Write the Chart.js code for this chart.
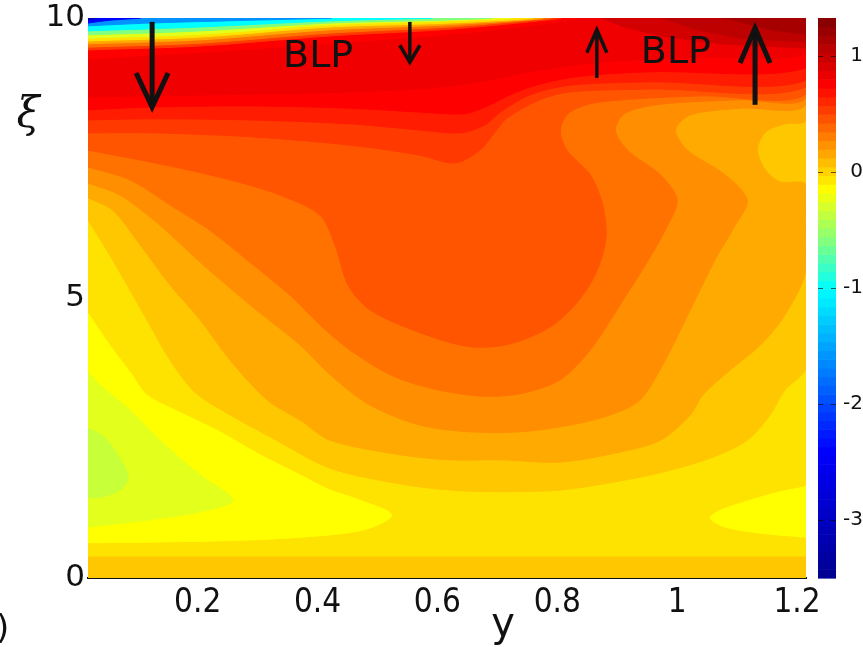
<!DOCTYPE html>
<html>
<head>
<meta charset="utf-8">
<script src="https://cdn.jsdelivr.net/npm/chart.js@4.4.1/dist/chart.umd.min.js"></script>
<style>
  html, body { margin: 0; padding: 0; background: #fff; }
  canvas { display: block; }
</style>
</head>
<body>
<canvas id="chart" width="863" height="647"></canvas>
<script>
// axis ranges and ticks
const yRange = [0.017, 1.215];
const xiRange = [0, 10];
const yTicks = [0.2, 0.4, 0.6, 0.8, 1, 1.2];
const xiTicks = [0, 5, 10];
const cbRange = [-3.5, 1.33];
const cbTicks = [-3, -2, -1, 0, 1];

// contour regions, points are [y, xi]
const baseField = [[0.017, 0], [1.215, 0], [1.215, 10], [0.017, 10]];
const bottomBand = [[0.017, 0], [1.215, 0], [1.215, 0.375], [0.017, 0.375]];
const leftYellow = [[0.017,4.73],[0.053,4.16],[0.087,3.68],[0.115,3.27],[0.170,2.96],[0.237,2.61],[0.304,2.20],[0.371,1.84],[0.421,1.57],[0.471,1.39],[0.524,1.13],[0.487,0.89],[0.421,0.77],[0.287,0.68],[0.120,0.64],[0.017,0.63]];
const leftGreenish = [[0.017,3.68],[0.037,3.45],[0.087,3.0],[0.137,2.46],[0.204,1.84],[0.259,1.39],[0.204,1.18],[0.120,1.04],[0.017,0.91]];
const limeLobe = [[0.017,2.68],[0.045,2.5],[0.070,2.14],[0.084,1.79],[0.070,1.57],[0.045,1.46],[0.017,1.43]];
const rightYellow = [[1.215,1.63],[1.172,1.54],[1.122,1.39],[1.072,1.21],[1.055,1.07],[1.080,0.91],[1.139,0.80],[1.215,0.73]];

// superlevel contours, left edge -> right edge
const contourA = [[0.017,6.39],[0.053,5.77],[0.087,5.14],[0.120,4.52],[0.154,3.89],[0.195,3.32],[0.254,2.91],[0.321,2.52],[0.421,1.96],[0.538,1.68],[0.621,1.57],[0.705,1.54],[0.805,1.57],[0.888,1.70],[0.972,1.88],[1.055,2.14],[1.117,2.46],[1.155,2.91],[1.180,3.36],[1.215,3.77]];
const contourB = [[0.017,6.79],[0.058,6.57],[0.104,5.95],[0.154,5.23],[0.204,4.61],[0.254,3.89],[0.316,3.18],[0.371,2.82],[0.421,2.46],[0.538,2.20],[0.621,2.11],[0.705,2.11],[0.805,2.07],[0.905,2.25],[0.972,2.46],[1.022,2.91],[1.043,3.27],[1.088,3.71],[1.139,4.16],[1.180,4.70],[1.215,5.5],[1.215,7.02],[1.172,7.07],[1.147,7.29],[1.134,7.64],[1.147,7.96],[1.180,8.11],[1.215,8.18]];
const contourC = [[0.017,7.05],[0.070,6.84],[0.137,6.30],[0.204,5.64],[0.287,4.88],[0.371,4.16],[0.421,3.63],[0.487,3.09],[0.571,2.73],[0.654,2.61],[0.738,2.61],[0.821,2.73],[0.888,2.91],[0.938,3.18],[0.980,3.89],[1.022,4.79],[1.063,5.68],[1.097,6.30],[1.117,6.75],[1.080,7.20],[1.017,7.64],[0.997,8.0],[1.022,8.27],[1.105,8.39],[1.215,8.45]];
const contourD = [[0.017,7.34],[0.087,7.11],[0.154,6.66],[0.220,6.21],[0.287,5.64],[0.354,5.05],[0.404,4.52],[0.454,4.07],[0.521,3.63],[0.588,3.39],[0.671,3.25],[0.738,3.29],[0.805,3.54],[0.855,4.07],[0.905,4.88],[0.947,5.59],[0.980,6.21],[1.0,6.75],[0.972,7.20],[0.917,7.64],[0.897,8.0],[0.913,8.30],[0.972,8.46],[1.105,8.54],[1.215,8.57]];
const contourE = [[0.017,7.64],[0.087,7.50],[0.170,7.32],[0.254,7.11],[0.337,6.84],[0.404,6.48],[0.429,5.95],[0.451,5.23],[0.487,4.79],[0.571,4.38],[0.654,4.13],[0.721,4.18],[0.788,4.48],[0.830,4.88],[0.863,5.41],[0.881,6.04],[0.876,6.66],[0.855,7.20],[0.816,7.64],[0.805,8.0],[0.821,8.32],[0.871,8.5],[1.038,8.61],[1.215,8.64]];
const contourF = [[0.017,7.95],[0.120,7.95],[0.287,7.88],[0.454,7.73],[0.571,7.55],[0.629,7.41],[0.671,7.64],[0.696,7.96],[0.716,8.21],[0.771,8.54],[0.821,8.68],[0.955,8.73],[1.215,8.77]];
const contourF2 = [[0.017,8.18],[0.120,8.20],[0.287,8.18],[0.454,8.11],[0.571,8.0],[0.638,7.95],[0.679,8.09],[0.705,8.32],[0.755,8.63],[0.821,8.80],[0.955,8.86],[1.215,8.89]];
const contourR = [[0.017,8.36],[0.120,8.41],[0.287,8.43],[0.454,8.39],[0.571,8.32],[0.646,8.29],[0.688,8.45],[0.721,8.63],[0.771,8.82],[0.838,8.96],[0.955,9.04],[1.215,9.11]];
const bandR2 = [[0.017,8.59],[0.120,8.61],[0.287,8.64],[0.454,8.68],[0.588,8.75],[0.671,8.86],[0.755,9.04],[0.871,9.21],[1.038,9.30],[1.215,9.36],[1.215,10],[0.805,10],[0.738,9.86],[0.621,9.73],[0.454,9.57],[0.287,9.43],[0.120,9.32],[0.017,9.25]];
const bandR3 = [[0.871,10],[1.215,10],[1.215,9.46],[1.072,9.54],[0.972,9.68],[0.905,9.86]];
const bandR4 = [[0.972,10],[1.215,10],[1.215,9.57],[1.105,9.64],[1.022,9.82]];
const bandR5 = [[1.072,10],[1.215,10],[1.215,9.71],[1.155,9.79],[1.105,9.93]];

// boundary layer at the top wall (low values near the top-left corner)
const wall075 = [[0.017,9.32],[0.204,9.39],[0.421,9.55],[0.621,9.71],[0.771,9.89],[0.830,10]];
const wall055 = [[0.017,9.43],[0.204,9.5],[0.421,9.68],[0.621,9.80],[0.771,9.95],[0.805,10]];
const wall035 = [[0.017,9.48],[0.204,9.55],[0.421,9.73],[0.621,9.84],[0.755,9.96],[0.788,10]];
const wall015 = [[0.017,9.54],[0.204,9.61],[0.421,9.79],[0.621,9.88],[0.771,10]];
const wallM005 = [[0.017,9.59],[0.204,9.66],[0.421,9.84],[0.621,9.91],[0.755,10]];
const wallM025 = [[0.017,9.64],[0.204,9.71],[0.421,9.88],[0.621,9.95],[0.721,10]];
const wallM06 = [[0.017,9.70],[0.204,9.77],[0.421,9.91],[0.604,9.96],[0.688,10]];
const wallM10 = [[0.017,9.77],[0.204,9.84],[0.421,9.95],[0.588,10]];
const wallM16 = [[0.017,9.86],[0.120,9.91],[0.287,9.96],[0.421,10]];
const wallM24 = [[0.017,9.91],[0.053,9.96],[0.104,10]];
const wallM31 = [[0.017,9.96],[0.032,10]];

// annotations
const blpText = ['BLP', 'BLP'];
const blpY = [0.401, 0.998];
const blpXi = [9.30, 9.38];
const arrowY = [0.124, 0.554, 0.866, 1.130];
const arrowFrom = [9.93, 9.93, 8.93, 8.45];
const arrowTo = [8.41, 9.21, 9.79, 9.82];
const arrowStyle = [[34, 16, 5], [17, 10, 3.5], [23, 10, 3.5], [35, 15, 5]];

// painting order: [value, points, closing]
const layers = [
  [-0.05, baseField, 'none'],
  [0.05, bottomBand, 'none'],
  [-0.15, leftYellow, 'none'],
  [-0.25, leftGreenish, 'none'],
  [-0.35, limeLobe, 'none'],
  [-0.15, rightYellow, 'none'],
  [0.05, contourA, 'top'],
  [0.15, contourB, 'top'],
  [0.25, contourC, 'top'],
  [0.35, contourD, 'top'],
  [0.45, contourE, 'top'],
  [0.55, contourF, 'top'],
  [0.65, contourF2, 'top'],
  [0.75, contourR, 'top'],
  [0.82, bandR2, 'none'],
  [0.95, bandR3, 'none'],
  [1.05, bandR4, 'none'],
  [1.15, bandR5, 'none'],
  [0.75, wall075, 'wall'],
  [0.55, wall055, 'wall'],
  [0.35, wall035, 'wall'],
  [0.15, wall015, 'wall'],
  [-0.05, wallM005, 'wall'],
  [-0.25, wallM025, 'wall'],
  [-0.6, wallM06, 'wall'],
  [-1.0, wallM10, 'wall'],
  [-1.6, wallM16, 'wall'],
  [-2.4, wallM24, 'wall'],
  [-3.1, wallM31, 'wall']
];

// colour map (jet-like, as in the colour bar)
const cmapStops = [[-3.5,'#00008f'],[-2.4,'#0000ff'],[-1.0,'#00ffff'],[-0.6,'#80ff80'],[-0.15,'#ffff00'],[0.3,'#ff8000'],[0.75,'#ff0000'],[1.33,'#800000']];

function hexRgb(h) {
  return [1, 3, 5].map(i => parseInt(h.substr(i, 2), 16));
}

function cmap(v) {
  const s = cmapStops;
  if (v <= s[0][0]) return s[0][1];
  for (let i = 1; i < s.length; i++) {
    if (v <= s[i][0]) {
      const t = (v - s[i - 1][0]) / (s[i][0] - s[i - 1][0]);
      const a = hexRgb(s[i - 1][1]), b = hexRgb(s[i][1]);
      return 'rgb(' + a.map((c, k) => Math.round(c + (b[k] - c) * t)).join(',') + ')';
    }
  }
  return s[s.length - 1][1];
}

// corners are repeated so that the smoothed outline stays straight along the frame
const datasets = layers.map(([value, pts, closing], i) => {
  let ring = pts.slice();
  const tl = [yRange[0], xiRange[1]], tr = [yRange[1], xiRange[1]];
  if (closing === 'top') ring.push(tr, tr, tl, tl);
  if (closing === 'wall') ring.push(tl, tl);
  const c = cmap(value);
  const smooth = closing !== 'none' || pts.length > 6;
  return {
    data: ring.map(p => ({x: p[0], y: p[1]})),
    backgroundColor: c,
    borderColor: c,
    borderWidth: 1,
    fill: 'shape',
    tension: smooth && pts !== baseField && pts !== bottomBand ? 0.3 : 0,
    pointRadius: 0,
    pointHitRadius: 0,
    order: -i
  };
});

function noPad(s) {
  s.paddingTop = 0; s.paddingBottom = 0; s.paddingLeft = 0; s.paddingRight = 0;
}

const colorbarPlugin = {
  id: 'colorbar',
  afterDraw(chart) {
    const {ctx, chartArea} = chart;
    const s = chart.scales.cb;
    const x0 = chartArea.right + 12, w = 18;
    const n = 64;
    const step = (cbRange[1] - cbRange[0]) / n;
    ctx.save();
    for (let i = 0; i < n; i++) {
      const v0 = cbRange[0] + i * step;
      const ya = s.getPixelForValue(v0 + step), yb = s.getPixelForValue(v0);
      ctx.fillStyle = cmap(v0 + step / 2);
      ctx.fillRect(x0, ya, w, yb - ya + 0.6);
    }
    ctx.strokeStyle = 'rgba(0,0,0,0.6)';
    ctx.lineWidth = 1;
    cbTicks.forEach(v => {
      const y = Math.round(s.getPixelForValue(v)) + 0.5;
      ctx.beginPath();
      ctx.moveTo(x0, y); ctx.lineTo(x0 + 5, y);
      ctx.moveTo(x0 + w - 5, y); ctx.lineTo(x0 + w, y);
      ctx.stroke();
    });
    // axis titles
    ctx.fillStyle = '#111';
    ctx.textAlign = 'center';
    ctx.textBaseline = 'middle';
    ctx.font = 'italic 42px "DejaVu Serif"';
    ctx.fillText('\u03BE', 28, 116);
    ctx.font = '40px "DejaVu Sans"';
    ctx.fillText('y', 503, 626);
    ctx.textAlign = 'left';
    ctx.font = '34px "DejaVu Sans"';
    ctx.fillText(')', -4, 630);
    ctx.restore();
  }
};

const annotationPlugin = {
  id: 'annotations',
  afterDatasetsDraw(chart) {
    const {ctx} = chart;
    const sx = chart.scales.x, sy = chart.scales.y;
    ctx.save();
    ctx.fillStyle = '#111';
    ctx.strokeStyle = '#111';
    ctx.font = '38px "DejaVu Sans"';
    ctx.textAlign = 'center';
    ctx.textBaseline = 'middle';
    blpText.forEach((t, i) => {
      ctx.fillText(t, sx.getPixelForValue(blpY[i]), sy.getPixelForValue(blpXi[i]));
    });
    arrowY.forEach((yv, i) => {
      const x = sx.getPixelForValue(yv);
      const y0 = sy.getPixelForValue(arrowFrom[i]);
      const y1 = sy.getPixelForValue(arrowTo[i]);
      const [head, half, lw] = arrowStyle[i];
      const dir = Math.sign(y1 - y0);
      ctx.lineWidth = lw;
      ctx.lineCap = 'butt';
      ctx.lineJoin = 'miter';
      ctx.beginPath();
      ctx.moveTo(x, y0);
      ctx.lineTo(x, y1 - dir * lw);
      ctx.stroke();
      ctx.beginPath();
      ctx.moveTo(x - half, y1 - dir * head);
      ctx.lineTo(x, y1);
      ctx.lineTo(x + half, y1 - dir * head);
      ctx.stroke();
    });
    ctx.restore();
  }
};

new Chart(document.getElementById('chart'), {
  type: 'line',
  data: {datasets: datasets},
  options: {
    responsive: false,
    animation: false,
    events: [],
    layout: {padding: {top: 18, left: 0, right: 0, bottom: 0}},
    plugins: {legend: {display: false}, tooltip: {enabled: false}},
    scales: {
      x: {
        type: 'linear',
        position: 'bottom',
        min: yRange[0],
        max: yRange[1],
        afterBuildTicks: s => { s.ticks = yTicks.map(v => ({value: v})); },
        afterFit: s => { s.height = 69; noPad(s); },
        grid: {display: false, drawTicks: false},
        border: {display: true, color: '#111', width: 2},
        ticks: {
          color: '#111',
          padding: 6,
          maxRotation: 0,
          font: {family: '"Liberation Sans Narrow", "DejaVu Sans Condensed", sans-serif', size: 33},
          callback: v => String(Number(Number(v).toFixed(1)))
        }
      },
      y: {
        type: 'linear',
        position: 'left',
        min: xiRange[0],
        max: xiRange[1],
        afterBuildTicks: s => { s.ticks = xiTicks.map(v => ({value: v})); },
        afterFit: s => { s.width = 88; noPad(s); },
        grid: {display: false, drawTicks: false},
        border: {display: false},
        ticks: {color: '#111', padding: 3, font: {family: '"DejaVu Sans"', size: 31}}
      },
      cb: {
        type: 'linear',
        position: 'right',
        min: cbRange[0],
        max: cbRange[1],
        afterBuildTicks: s => { s.ticks = cbTicks.map(v => ({value: v})); },
        afterFit: s => { s.width = 57; noPad(s); },
        grid: {display: false, drawTicks: false},
        border: {display: false},
        ticks: {color: '#111', padding: 31, crossAlign: 'far', font: {family: '"DejaVu Sans"', size: 20}}
      }
    }
  },
  plugins: [annotationPlugin, colorbarPlugin]
});
</script>
</body>
</html>
